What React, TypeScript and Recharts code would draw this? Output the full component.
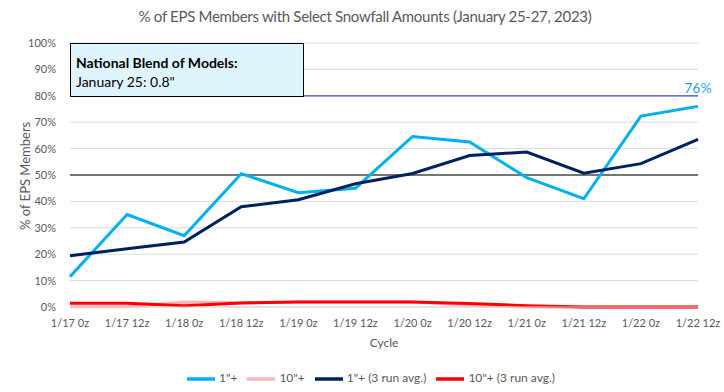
import React from "react";
import {
  LineChart,
  Line,
  XAxis,
  YAxis,
  CartesianGrid,
  ReferenceLine,
  Legend,
  LabelList,
} from "recharts";

const cycles = [
  "1/17 0z", "1/17 12z", "1/18 0z", "1/18 12z", "1/19 0z", "1/19 12z",
  "1/20 0z", "1/20 12z", "1/21 0z", "1/21 12z", "1/22 0z", "1/22 12z",
];
const oneInch = [11.5, 35, 27, 50.5, 43.3, 45, 64.6, 62.5, 49, 41, 72.3, 76];
const tenInch = [0.1, 0.1, 1.9, 1.6, 1.9, 1.9, 1.9, 0.7, 0, 0, 0, 0];
const oneInchAvg = [19.4, 22.1, 24.6, 38, 40.6, 46.7, 50.6, 57.4, 58.7, 50.7, 54.3, 63.5];
const tenInchAvg = [1.4, 1.4, 0.5, 1.5, 1.9, 1.9, 1.9, 1.3, 0.5, 0, 0, 0];
const yTicks = [0, 10, 20, 30, 40, 50, 60, 70, 80, 90, 100];
const thresholdLine = 80;
const halfLine = 50;
const nbmTitle = "National Blend of Models:";
const nbmText = 'January 25: 0.8"';

const data = cycles.map((c, i) => ({
  cycle: c,
  a: oneInch[i],
  b: tenInch[i],
  c: oneInchAvg[i],
  d: tenInchAvg[i],
}));

const FONT = "Lato, 'Open Sans', sans-serif";
const GRAY = "#595959";

const LastLabel = (props: any) => {
  const { x, y, value, index } = props;
  if (index !== cycles.length - 1) return null;
  return (
    <text x={x} y={y - 13} textAnchor="middle" fill="#1ea7e4" fontSize={14} fontFamily={FONT}>
      {Math.round(value)}%
    </text>
  );
};

export default function App() {
  return (
    <div style={{ position: "absolute", left: 0, top: 0, width: 724, height: 392, background: "#fff", fontFamily: FONT }}>
      <div
        style={{
          position: "absolute", left: 0, top: 7, width: 730, textAlign: "center",
          fontSize: 15, letterSpacing: -0.3, color: GRAY, fontFamily: FONT,
        }}
      >
        % of EPS Members with Select Snowfall Amounts (January 25-27, 2023)
      </div>
      <LineChart
        width={724}
        height={392}
        data={data}
        margin={{ top: 43, right: 26, left: 0, bottom: 1 }}
      >
        <CartesianGrid vertical={false} stroke="#d9d9d9" />
        <XAxis
          dataKey="cycle"
          tickLine={false}
          axisLine={{ stroke: "#d9d9d9" }}
          tick={{ fill: GRAY, fontSize: 11, fontFamily: FONT }}
          height={58}
          interval={0}
          tickMargin={6}
          label={{ value: "Cycle", position: "insideBottom", offset: 18, fill: GRAY, fontSize: 12, fontFamily: FONT }}
        />
        <YAxis
          domain={[0, 100]}
          ticks={yTicks}
          tickFormatter={(v: number) => `${v}%`}
          tickLine={false}
          axisLine={false}
          width={70}
          tick={{ fill: GRAY, fontSize: 11, fontFamily: FONT }}
          tickMargin={8}
          label={{ value: "% of EPS Members", angle: -90, position: "insideLeft", offset: 25, dy: 55, fill: GRAY, fontSize: 13, fontFamily: FONT }}
        />
        <ReferenceLine y={thresholdLine} stroke="#4b4bc0" strokeWidth={1.3} />
        <ReferenceLine y={halfLine} stroke="#000" strokeWidth={1.2} />
        <Legend
          verticalAlign="bottom"
          height={26}
          iconType="plainline"
          iconSize={28}
          itemSorter="dataKey"
          wrapperStyle={{ fontSize: 12, fontFamily: FONT, color: GRAY, left: 27 }}
          formatter={(v: string) => <span style={{ color: GRAY }}>{v}</span>}
        />
        <Line type="linear" dataKey="a" name={'1"+'} stroke="#00b0f0" strokeWidth={3} dot={false} isAnimationActive={false}>
          <LabelList dataKey="a" content={<LastLabel />} />
        </Line>
        <Line type="linear" dataKey="b" name={'10"+'} stroke="#ffb3b8" strokeWidth={3} dot={false} isAnimationActive={false} />
        <Line type="linear" dataKey="c" name={'1"+ (3 run avg.)'} stroke="#002060" strokeWidth={3} dot={false} isAnimationActive={false} />
        <Line type="linear" dataKey="d" name={'10"+ (3 run avg.)'} stroke="#ff0000" strokeWidth={3} dot={false} isAnimationActive={false} />
      </LineChart>
      <div
        style={{
          position: "absolute", left: 70, top: 43, width: 234, height: 54,
          background: "#dff5fd", border: "1px solid #000", fontFamily: FONT,
          color: "#000", fontSize: 14, lineHeight: "19px", padding: "9px 0 0 5px",
          boxSizing: "border-box",
        }}
      >
        <div style={{ fontWeight: "bold" }}>{nbmTitle}</div>
        <div>{nbmText}</div>
      </div>
    </div>
  );
}
